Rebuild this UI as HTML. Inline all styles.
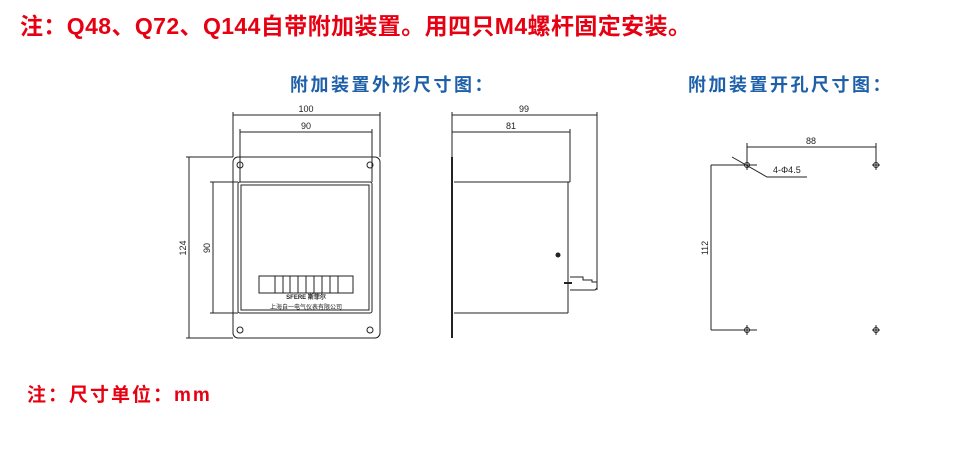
<!DOCTYPE html>
<html><head><meta charset="utf-8"><style>
body{margin:0;width:965px;height:457px;background:#fff;position:relative;overflow:hidden;font-family:"Liberation Sans","Noto Sans CJK SC",sans-serif}
.t{position:absolute;font-weight:bold;white-space:nowrap}
</style></head><body>
<div class="t" style="left:20px;top:7px;font-size:23px;color:#e60012;letter-spacing:0.4px">注：Q48、Q72、Q144自带附加装置。用四只M4螺杆固定安装。</div>
<div class="t" style="left:290px;top:71px;font-size:18px;color:#1d5fa8;letter-spacing:2.5px">附加装置外形尺寸图：</div>
<div class="t" style="left:688px;top:71px;font-size:18px;color:#1d5fa8;letter-spacing:2.5px">附加装置开孔尺寸图：</div>
<div class="t" style="left:27px;top:380px;font-size:19px;color:#e60012;letter-spacing:2px">注：尺寸单位：mm</div>
<svg width="965" height="457" style="position:absolute;left:0;top:0" font-family="Liberation Sans, sans-serif" font-size="9">
<g stroke="#222" fill="none" stroke-width="1">
<line x1="233" y1="112" x2="233" y2="157"/><line x1="380" y1="112" x2="380" y2="157"/>
<line x1="233" y1="115" x2="380" y2="115"/>
<line x1="240" y1="129" x2="240" y2="182"/><line x1="372" y1="129" x2="372" y2="182"/>
<line x1="240" y1="132" x2="372" y2="132"/>
<rect x="233" y="157" width="147" height="181" rx="5"/>
<rect x="238" y="182" width="134" height="131" rx="2"/>
<rect x="241" y="185" width="128" height="125"/>
<circle cx="240" cy="165" r="3"/><circle cx="370" cy="165" r="3"/>
<circle cx="240" cy="330" r="3"/><circle cx="370" cy="330" r="3"/>
<line x1="186" y1="157" x2="233" y2="157"/><line x1="186" y1="338" x2="233" y2="338"/>
<line x1="189" y1="157" x2="189" y2="338"/>
<line x1="210" y1="182" x2="238" y2="182"/><line x1="210" y1="313" x2="238" y2="313"/>
<line x1="213" y1="182" x2="213" y2="313"/>
<rect x="259" y="276" width="94" height="17"/>
<line x1="275" y1="276" x2="275" y2="293"/><line x1="283" y1="276" x2="283" y2="293"/>
<line x1="290" y1="276" x2="290" y2="293"/><line x1="298" y1="276" x2="298" y2="293"/>
<line x1="306" y1="276" x2="306" y2="293"/><line x1="314" y1="276" x2="314" y2="293"/>
<line x1="322" y1="276" x2="322" y2="293"/><line x1="330" y1="276" x2="330" y2="293"/>
<line x1="338" y1="276" x2="338" y2="293"/>
<line x1="452" y1="112" x2="452" y2="182"/><line x1="597" y1="112" x2="597" y2="290"/>
<line x1="452" y1="115" x2="597" y2="115"/>
<line x1="570" y1="129" x2="570" y2="182"/><line x1="452" y1="132" x2="570" y2="132"/>
<line x1="452" y1="157" x2="452" y2="338" stroke-width="2"/>
<line x1="454" y1="182" x2="570" y2="182"/>
<line x1="454" y1="313" x2="568" y2="313"/>
<line x1="568" y1="182" x2="568" y2="313"/>
<path d="M570 277 H583 V280 H592 V282 H597 M570 290 H595 L597 288"/>
<line x1="564" y1="283" x2="572" y2="283" stroke-width="2"/>
<circle cx="558" cy="255" r="2" fill="#222"/>
<line x1="747" y1="143" x2="747" y2="165"/><line x1="876" y1="143" x2="876" y2="165"/>
<line x1="747" y1="147" x2="876" y2="147"/>
<line x1="711" y1="165" x2="757" y2="165"/><line x1="711" y1="330" x2="757" y2="330"/>
<line x1="711" y1="165" x2="711" y2="330"/>
<line x1="743" y1="165" x2="751" y2="165"/><line x1="872" y1="165" x2="880" y2="165"/><line x1="876" y1="160" x2="876" y2="170"/><line x1="747" y1="160" x2="747" y2="170"/>
<line x1="872" y1="330" x2="880" y2="330"/><line x1="876" y1="325" x2="876" y2="335"/><line x1="747" y1="325" x2="747" y2="335"/>
<circle cx="747" cy="165" r="2.5"/><circle cx="876" cy="165" r="2.5"/><circle cx="747" cy="330" r="2.5"/><circle cx="876" cy="330" r="2.5"/>
<polyline points="732,157 767,177 807,177"/>
</g>
<g fill="#222" stroke="none">
<text x="306" y="112" text-anchor="middle">100</text>
<text x="306" y="129" text-anchor="middle">90</text>
<text x="524" y="112" text-anchor="middle">99</text>
<text x="511" y="129" text-anchor="middle">81</text>
<text x="811" y="144" text-anchor="middle">88</text>
<text x="773" y="173">4-Φ4.5</text>
<text transform="translate(186,248) rotate(-90)" text-anchor="middle">124</text>
<text transform="translate(210,248) rotate(-90)" text-anchor="middle">90</text>
<text transform="translate(708,248) rotate(-90)" text-anchor="middle">112</text>
<text x="306" y="299" text-anchor="middle" font-size="6" font-weight="bold">SFERE 斯菲尔</text>
<text x="306" y="309" text-anchor="middle" font-size="6" font-family="Noto Sans CJK SC, sans-serif">上海自一电气仪表有限公司</text>
</g>
</svg>
</body></html>
